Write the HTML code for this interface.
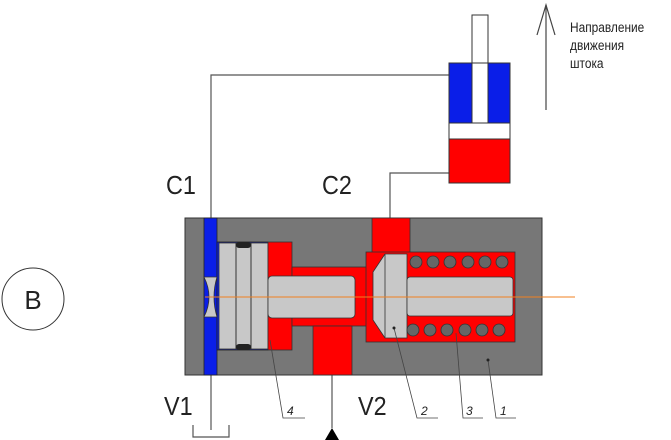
<!DOCTYPE html>
<html><head><meta charset="utf-8"><style>
html,body{margin:0;padding:0;background:#fff}
svg{display:block}
text{font-family:"Liberation Sans","DejaVu Sans",sans-serif;fill:#222}
</style></head><body>
<svg width="671" height="440" viewBox="0 0 671 440" xmlns="http://www.w3.org/2000/svg">
<rect width="671" height="440" fill="#fff"/>
<polyline points="211,218 211,75 449,75" fill="none" stroke="#555" stroke-width="1.2"/>
<polyline points="390,218 390,173 449,173" fill="none" stroke="#555" stroke-width="1.2"/>
<line x1="211" y1="374" x2="211" y2="430" stroke="#555" stroke-width="1.2"/>
<polyline points="193,425 193,437 229,437 229,425" fill="none" stroke="#555" stroke-width="1.2"/>
<line x1="332" y1="374" x2="332" y2="428" stroke="#555" stroke-width="1.2"/>
<polygon points="325,440 332,428 339,440" fill="#000"/>
<rect x="472" y="15" width="16" height="108" fill="#fff" stroke="#333"/>
<rect x="449" y="63" width="61" height="60" fill="#0a1ee8" stroke="#333"/>
<rect x="472" y="63" width="16" height="60" fill="#fff" stroke="#333"/>
<rect x="449" y="123" width="61" height="16" fill="#fff" stroke="#333"/>
<rect x="449" y="139" width="61" height="44" fill="#f00" stroke="#333"/>
<line x1="546" y1="5" x2="546" y2="110" stroke="#444" stroke-width="1.2"/>
<polyline points="537,35 546,5 555,35" fill="none" stroke="#444" stroke-width="1.2"/>
<g transform="translate(570,0) scale(0.85,1)">
<text x="0" y="32" font-size="14">Направление</text>
<text x="0" y="50" font-size="14">движения</text>
<text x="0" y="68" font-size="14">штока</text>
</g>
<rect x="185" y="218" width="357" height="157" fill="#777" stroke="#333"/>
<rect x="204" y="218" width="13" height="157" fill="#0a1ee8" stroke="#222" stroke-width="0.8"/>
<rect x="217" y="242" width="51" height="108" fill="#0a1ee8" stroke="#222" stroke-width="0.8"/>
<rect x="219" y="243" width="49" height="106" fill="#c8c8c8" stroke="#333" stroke-width="0.8"/>
<line x1="236" y1="243" x2="236" y2="349" stroke="#333"/>
<line x1="251" y1="243" x2="251" y2="349" stroke="#333"/>
<rect x="236" y="242" width="15" height="6" rx="3" fill="#222"/>
<rect x="236" y="344" width="15" height="6" rx="3" fill="#222"/>
<path d="M204,277 Q214,297 204,317 L217,317 Q211,297 217,277Z" fill="#c8c8c8" stroke="#333" stroke-width="0.8"/>
<rect x="268" y="242" width="24" height="108" fill="#f00" stroke="#333" stroke-width="0.8"/>
<rect x="292" y="267" width="80" height="59" fill="#f00" stroke="#333" stroke-width="0.8"/>
<rect x="313" y="326" width="39" height="49" fill="#f00" stroke="#333" stroke-width="0.8"/>
<rect x="372" y="218" width="38" height="35" fill="#f00" stroke="#333" stroke-width="0.8"/>
<rect x="366" y="252" width="149" height="90" fill="#f00" stroke="#333" stroke-width="0.8"/>
<rect x="268" y="276" width="87" height="42" rx="4" fill="#c8c8c8" stroke="#333" stroke-width="0.8"/>
<polygon points="385,254 407,254 407,338 385,338 373,320 373,272" fill="#c8c8c8" stroke="#333" stroke-width="0.8"/>
<line x1="385" y1="254" x2="385" y2="338" stroke="#333" stroke-width="0.8"/>
<rect x="407" y="277" width="106" height="39" rx="3" fill="#c8c8c8" stroke="#333" stroke-width="0.8"/>
<g fill="#666" stroke="#333" stroke-width="0.8">
<circle cx="416" cy="262" r="6"/><circle cx="433" cy="262" r="6"/><circle cx="450" cy="262" r="6"/><circle cx="468" cy="262" r="6"/><circle cx="485" cy="262" r="6"/><circle cx="502" cy="262" r="6"/>
<circle cx="413" cy="330" r="6"/><circle cx="430" cy="330" r="6"/><circle cx="447" cy="330" r="6"/><circle cx="465" cy="330" r="6"/><circle cx="482" cy="330" r="6"/><circle cx="499" cy="330" r="6"/>
</g>
<line x1="205" y1="297" x2="575" y2="297" stroke="#f08020" stroke-width="1"/>
<g stroke="#444" stroke-width="0.8" fill="none">
<polyline points="270,340 283,418 305,418"/>
<polyline points="394,328 417,418 438,418"/>
<polyline points="456,333 463,418 483,418"/>
<polyline points="488,360 496,418 516,418"/>
</g>
<circle cx="394" cy="328" r="1.5" fill="#222"/><circle cx="488" cy="360" r="1.5" fill="#222"/>
<text x="287" y="415" font-size="12" font-style="italic">4</text>
<text x="421" y="415" font-size="12" font-style="italic">2</text>
<text x="466" y="415" font-size="12" font-style="italic">3</text>
<text x="500" y="415" font-size="12" font-style="italic">1</text>
<g font-size="26">
<text x="166" y="194" transform="translate(166,0) scale(0.9,1) translate(-166,0)">C1</text>
<text x="322" y="194" transform="translate(322,0) scale(0.9,1) translate(-322,0)">C2</text>
<text x="164" y="415" transform="translate(164,0) scale(0.9,1) translate(-164,0)">V1</text>
<text x="358" y="415" transform="translate(358,0) scale(0.9,1) translate(-358,0)">V2</text>
</g>
<circle cx="33" cy="299" r="31" fill="none" stroke="#333" stroke-width="1"/>
<text x="33" y="309" font-size="26" text-anchor="middle">B</text>
</svg>
</body></html>
